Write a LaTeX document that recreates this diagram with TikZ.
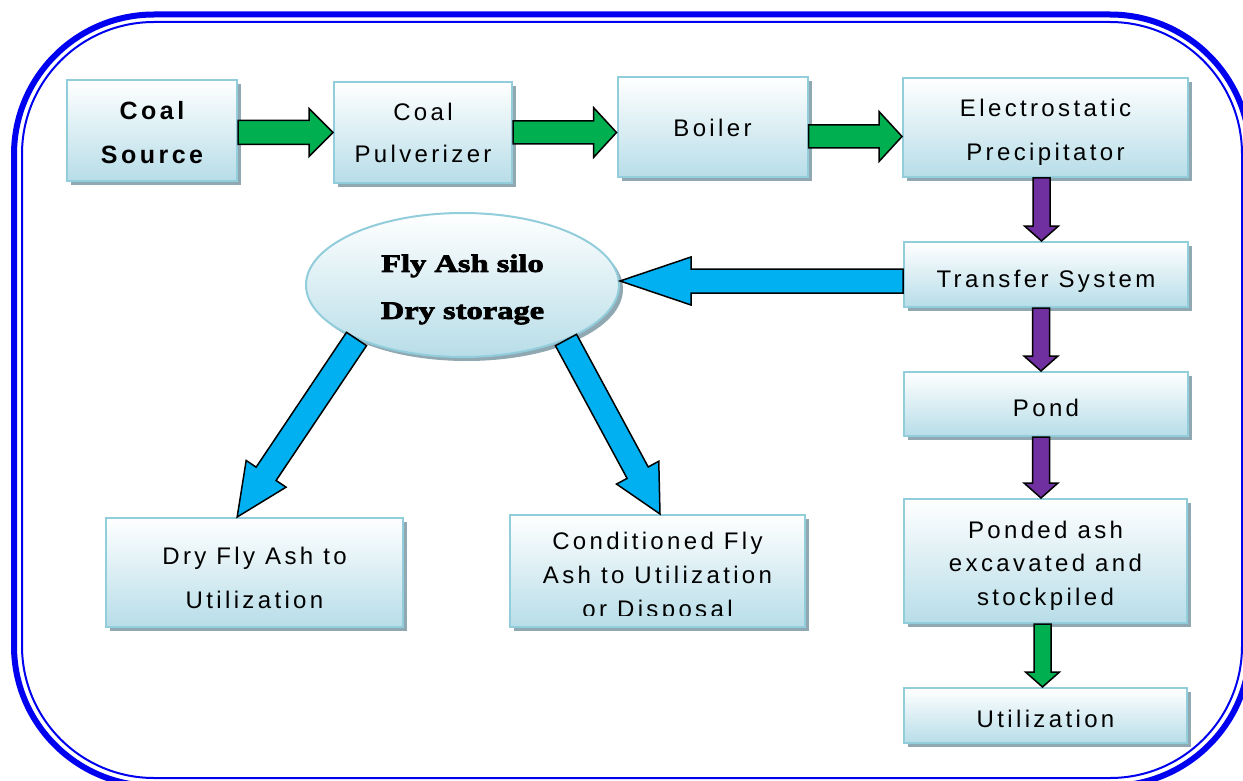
\documentclass[tikz,border=0pt]{standalone}
\usepackage{fontspec}
\usetikzlibrary{calc,shapes.geometric,shadows}
\newfontfamily\boxfont{Liberation Sans}[LetterSpace=14]
\newfontfamily\silofont{Liberation Serif}[FakeStretch=1.3,BoldFeatures={FakeBold=3}]
\definecolor{frameblue}{RGB}{0,0,240}
\definecolor{boxedge}{RGB}{146,205,220}
\definecolor{boxbot}{RGB}{183,221,232}
\definecolor{shadowgray}{RGB}{143,168,178}
\definecolor{agreen}{RGB}{0,176,80}
\definecolor{apurple}{RGB}{112,48,160}
\definecolor{ablue}{RGB}{0,176,240}
\newcommand\lines[2][3pt]{\raisebox{-#1}[\height][\depth]{\begin{tabular}{@{}c@{}}#2\end{tabular}}}
\tikzset{
  box/.style={draw=boxedge, line width=2pt, top color=white, bottom color=boxbot,
    general shadow={shadow xshift=4pt, shadow yshift=-4pt, fill=shadowgray},
    inner sep=0pt, align=center, text=black},
  boxtext/.style={font=\boxfont\fontsize{24}{#1}\selectfont},
  boxtextb/.style={font=\boxfont\bfseries\fontsize{25}{#1}\selectfont},
  silostyle/.style={ellipse, draw=boxedge, line width=2pt, top color=white, bottom color=boxbot,
    general shadow={shadow xshift=4pt, shadow yshift=-4pt, fill=shadowgray},
    inner sep=0pt, align=center, minimum width=313pt, minimum height=144pt,
    font=\silofont\bfseries\fontsize{25}{47}\selectfont},
  arrowline/.style={draw=black, line width=1.5pt, line join=miter},
  framethick/.style={draw=frameblue, line width=6pt, rounded corners=140pt},
  framethin/.style={draw=frameblue, line width=2pt, rounded corners=132pt},
}
% #1 tail, #2 tip, #3 fill, #4 shaft half width, #5 head half width, #6 head length
\newcommand\blockarrow[6]{%
  \coordinate (ba-c) at ($(#2)!#6!(#1)$);
  \draw[arrowline, fill=#3]
    ($(#1)!#4!90:(#2)$) -- ($(ba-c)!#4!90:(#2)$) -- ($(ba-c)!#5!90:(#2)$) -- (#2)
    -- ($(ba-c)!#5!-90:(#2)$) -- ($(ba-c)!#4!-90:(#2)$) -- ($(#1)!#4!-90:(#2)$) -- cycle;
}
\begin{document}
\begin{tikzpicture}[x=1pt,y=-1pt]
\useasboundingbox (0,0) rectangle (1243,781);
\fill[white] (0,0) rectangle (1243,781);
% frame
\draw[framethick] (14,14.5) rectangle (1250,786);
\draw[framethin] (22,22) rectangle (1242,778);
% boxes
\node[box, boxtextb=44, minimum width=170pt, minimum height=101pt] (coal) at (152,130.5) {\lines[2pt]{Coal\\Source}};
\node[box, boxtext=42, minimum width=178pt, minimum height=101pt] (pulv) at (423,132.5) {\lines[1pt]{Coal\\Pulverizer}};
\node[box, boxtext=44, minimum width=190pt, minimum height=100pt] (boiler) at (712.5,127.5) {\lines[0pt]{Boiler}};
\node[box, boxtext=44, minimum width=285pt, minimum height=99pt] (esp) at (1045.5,127.5) {\lines[2pt]{Electrostatic\\Precipitator}};
\node[box, boxtext=44, minimum width=284pt, minimum height=65pt] (trans) at (1046,274.5) {\lines[4pt]{Transfer System}};
\node[box, boxtext=44, minimum width=284pt, minimum height=64pt] (pond) at (1046,404) {\lines[4pt]{Pond}};
\node[box, boxtext=33.5, minimum width=283pt, minimum height=124pt] (ponded) at (1045.5,561) {\lines[4pt]{Ponded ash\\excavated and\\stockpiled}};
\node[box, boxtext=44, minimum width=283pt, minimum height=55pt] (util) at (1045.5,715.5) {\lines[3pt]{Utilization}};
\node[box, boxtext=44, minimum width=297pt, minimum height=109pt] (dry) at (254.5,572.5) {\lines[5pt]{Dry Fly Ash to\\Utilization}};
\node[box, minimum width=295pt, minimum height=112pt] (cond) at (657.5,571) {};
\begin{scope}
  \clip (cond.north west) rectangle (cond.east |- 0,615);
  \node[align=center, inner sep=0pt, boxtext=34] (condtxt) at (657.5,577) {Conditioned Fly\\Ash to Utilization\\or Disposal};
\end{scope}
% silo
\node[silostyle] (silo) at (462.5,285) {\lines[1pt]{Fly Ash silo\\Dry storage}};
% green horizontal arrows
\blockarrow{coal.east |- pulv.west}{pulv.west}{agreen}{12pt}{24pt}{24pt}
\blockarrow{pulv.east}{boiler.west |- pulv.east}{agreen}{11.5pt}{25pt}{23pt}
\coordinate (g3t) at ($(boiler.east)+(0,9)$);
\coordinate (g3h) at (esp.west |- g3t);
\blockarrow{g3t}{g3h}{agreen}{11.5pt}{25pt}{23pt}
% purple vertical arrows
\coordinate (p1t) at ($(esp.south)+(-4,0)$);
\coordinate (p1h) at (p1t |- trans.north);
\blockarrow{p1t}{p1h}{apurple}{8.5pt}{17pt}{15pt}
\coordinate (p2t) at ($(trans.south)+(-5,0)$);
\coordinate (p2h) at (p2t |- pond.north);
\blockarrow{p2t}{p2h}{apurple}{8.5pt}{17pt}{15pt}
\coordinate (p3t) at ($(pond.south)+(-5,0)$);
\coordinate (p3h) at (p3t |- ponded.north);
\blockarrow{p3t}{p3h}{apurple}{8.5pt}{17pt}{15pt}
% green vertical arrow
\coordinate (g4t) at ($(ponded.south)+(-3,0)$);
\coordinate (g4h) at (g4t |- util.north);
\blockarrow{g4t}{g4h}{agreen}{8.5pt}{17pt}{15pt}
% blue arrows
\coordinate (b1t) at ($(trans.west)+(0,6.5)$);
\coordinate (b1h) at (silo.east |- b1t);
\blockarrow{b1t}{b1h}{ablue}{12pt}{24pt}{71pt}
\coordinate (b2h) at ($(dry.north west)!0.442!(dry.north east)$);
\blockarrow{silo.207}{b2h}{ablue}{12pt}{24pt}{52pt}
\coordinate (b3h) at ($(cond.north)+(2.5,0)$);
\blockarrow{silo.332}{b3h}{ablue}{12pt}{24pt}{47pt}
\end{tikzpicture}
\end{document}
